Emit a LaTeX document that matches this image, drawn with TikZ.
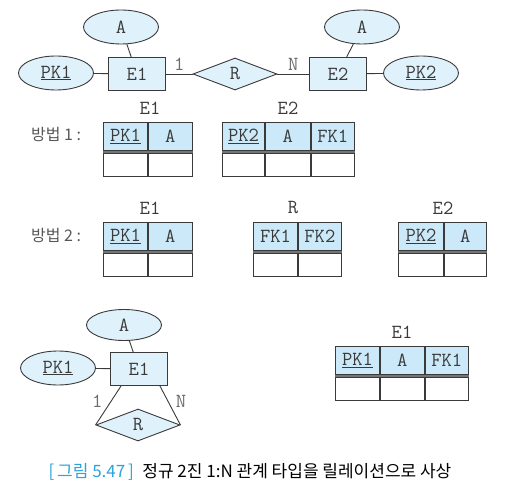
\documentclass[tikz,border=0pt]{standalone}
\usepackage{fontspec}
\newfontfamily\cjk{Noto Sans CJK KR}
\usetikzlibrary{positioning,shapes.geometric}
\definecolor{erfill}{HTML}{DFF1FA}
\definecolor{tabfill}{HTML}{CBE9F8}
\definecolor{capblue}{HTML}{2BA3DB}
\definecolor{ink}{HTML}{3A3A3A}
\tikzset{
  tt/.style={font=\ttfamily\fontsize{20}{22}\selectfont, text=ink},
  ent/.style={draw=ink, fill=erfill, minimum width=57pt, minimum height=33pt},
  attr/.style={ellipse, draw=ink, fill=erfill, minimum width=75pt, minimum height=34pt, inner sep=0pt},
  rel/.style={diamond, draw=ink, fill=erfill, aspect=2.6, minimum width=84pt, minimum height=32pt, inner sep=0pt},
  hcell/.style={draw=ink, fill=tabfill, minimum height=28pt, inner sep=0pt,
    append after command={([yshift=-1.3pt]\tikzlastnode.south west)
      edge[line width=3.2pt, ink!70] ([yshift=-1.3pt]\tikzlastnode.south east)}},
  bcell/.style={draw=ink, minimum height=23pt, inner sep=0pt},
  card/.style={text=ink!75},
  kor/.style={font=\cjk\fontsize{16}{19}\selectfont, text=ink!85}
}
\begin{document}
\begin{tikzpicture}[x=1pt, y=-1pt, line width=0.9pt, every node/.style={tt}]
\useasboundingbox (0,0) rectangle (510,494);
% top: E1 -- R -- E2
\node[ent] (e1) at (137,74) {E1};
\node[attr] (a1) at (121,27) {A};
\node[attr] (pk1) at (56,73) {\underline{PK1}};
\node[rel] (r) at (235,74) {R};
\node[ent] (e2) at (338,74) {E2};
\node[attr] (a2) at (362,27) {A};
\node[attr] (pk2) at (421,73) {\underline{PK2}};
\draw[ink] (a1) -- (e1);
\draw[ink] (pk1) -- (e1);
\draw[ink] (e1) -- node[card, above] {1} (r);
\draw[ink] (r) -- node[card, above] {N} (e2);
\draw[ink] (a2) -- (e2);
\draw[ink] (e2) -- (pk2);
% method 1
\node[kor] (m1) at (56,135) {방법 1 :};
\node (t1e1) at (150,108) {E1};
\node[hcell, minimum width=44pt, anchor=north west] (p1a) at (103,122) {\underline{PK1}};
\node[hcell, minimum width=44pt, right=0pt of p1a] (p1b) {A};
\node[bcell, minimum width=44pt, below=2.5pt of p1a] {};
\node[bcell, minimum width=44pt, below=2.5pt of p1b] {};
\node (t1e2) at (288,108) {E2};
\node[hcell, minimum width=42pt, anchor=north west] (q1a) at (222,122) {\underline{PK2}};
\node[hcell, minimum width=45pt, right=0pt of q1a] (q1b) {A};
\node[hcell, minimum width=43pt, right=0pt of q1b] (q1c) {FK1};
\node[bcell, minimum width=42pt, below=2.5pt of q1a] {};
\node[bcell, minimum width=45pt, below=2.5pt of q1b] {};
\node[bcell, minimum width=43pt, below=2.5pt of q1c] {};
% method 2
\node[kor] (m2) at (56,235) {방법 2 :};
\node (t2e1) at (150,208) {E1};
\node[hcell, minimum width=44pt, anchor=north west] (p2a) at (103,222) {\underline{PK1}};
\node[hcell, minimum width=44pt, right=0pt of p2a] (p2b) {A};
\node[bcell, minimum width=44pt, below=2.5pt of p2a] {};
\node[bcell, minimum width=44pt, below=2.5pt of p2b] {};
\node (t2r) at (293,208) {R};
\node[hcell, minimum width=44pt, anchor=north west] (s2a) at (253,222) {FK1};
\node[hcell, minimum width=43pt, right=0pt of s2a] (s2b) {FK2};
\node[bcell, minimum width=44pt, below=2.5pt of s2a] {};
\node[bcell, minimum width=43pt, below=2.5pt of s2b] {};
\node (t2e2) at (443,208) {E2};
\node[hcell, minimum width=45pt, anchor=north west] (q2a) at (398,222) {\underline{PK2}};
\node[hcell, minimum width=42pt, right=0pt of q2a] (q2b) {A};
\node[bcell, minimum width=45pt, below=2.5pt of q2a] {};
\node[bcell, minimum width=42pt, below=2.5pt of q2b] {};
% bottom: recursive 1:N
\node[ent] (e3) at (139,369) {E1};
\node[attr, minimum height=31pt] (a3) at (124,325) {A};
\node[attr] (pk3) at (58,368) {\underline{PK1}};
\node[rel] (r3) at (138,425) {R};
\draw[ink] (a3) -- (e3);
\draw[ink] (pk3) -- (e3);
\draw[ink] ([xshift=11pt]e3.south west) -- node[card, left=2pt, yshift=4pt] {1} (r3.west);
\draw[ink] ([xshift=-8pt]e3.south east) -- node[card, right=2pt, yshift=4pt] {N} (r3.east);
\node (t3e1) at (402,332) {E1};
\node[hcell, minimum width=44pt, anchor=north west] (p3a) at (335,346) {\underline{PK1}};
\node[hcell, minimum width=44pt, right=0pt of p3a] (p3b) {A};
\node[hcell, minimum width=43pt, right=0pt of p3b] (p3c) {FK1};
\node[bcell, minimum width=44pt, below=2.5pt of p3a] {};
\node[bcell, minimum width=44pt, below=2.5pt of p3b] {};
\node[bcell, minimum width=43pt, below=2.5pt of p3c] {};
% caption
\node[font=\cjk\fontsize{17}{20}\selectfont, text=black] (cap) at (250,472)
  {{\color{capblue}[\,그림 5.47\,]}\enspace 정규 2진 1:N 관계 타입을 릴레이션으로 사상};
\end{tikzpicture}
\end{document}
